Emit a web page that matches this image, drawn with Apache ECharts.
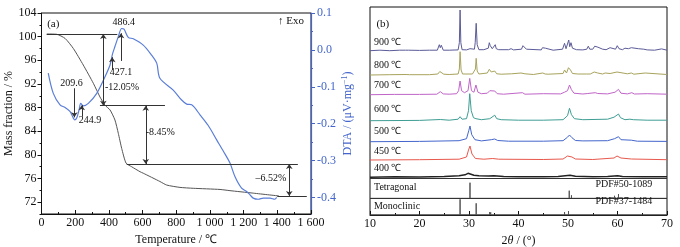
<!DOCTYPE html>
<html>
<head>
<meta charset="utf-8">
<script src="https://cdn.jsdelivr.net/npm/echarts@6/dist/echarts.min.js"></script>
<style>
	html, body { margin: 0; padding: 0; background: #fff; }
	#chart { width: 680px; height: 247px; }
</style>
</head>
<body>
<div id="chart"></div>
<script>
	// (a) TG / DTA, temperature in ℃
	var tgData = [
		[31, 100.45], [90, 100.4], [140, 99.7], [189, 98.0], [248, 95.2], [308, 92.1],
		[347, 89.8], [377, 88.4], [407, 87.6], [436, 85.9], [456, 83.65], [476, 81.1],
		[502, 78.6], [535, 78.0], [585, 77.15], [604, 76.9], [703, 75.5], [743, 74.9],
		[822, 74.5], [901, 74.35], [1060, 74.15], [1119, 73.95], [1250, 73.55], [1410, 73.05]
	];
	var dtaData = [
		[40, -0.063], [70, -0.118], [110, -0.149], [140, -0.156], [169, -0.167], [189, -0.185],
		[197, -0.19], [209, -0.185], [223, -0.163], [233, -0.145], [248, -0.152], [278, -0.145],
		[328, -0.118], [377, -0.073], [407, -0.041], [415, -0.025], [423, -0.009], [436, 0.009],
		[456, 0.036], [476, 0.058], [490, 0.056], [515, 0.034], [545, 0.030], [604, 0.013],
		[650, -0.012], [684, -0.036], [703, -0.077], [782, -0.109], [832, -0.136], [862, -0.147],
		[892, -0.149], [941, -0.176], [990, -0.205], [1040, -0.244], [1080, -0.275], [1119, -0.307],
		[1149, -0.344], [1188, -0.375], [1218, -0.384], [1238, -0.393], [1257, -0.402],
		[1287, -0.405], [1317, -0.402], [1357, -0.402], [1385, -0.405], [1396, -0.400]
	];

	// (b) XRD, 2θ vs relative intensity
	var temps = ["900 ℃", "800 ℃", "700 ℃", "600 ℃", "500 ℃", "450 ℃", "400 ℃"];
	var offsets = [164.3, 140, 120.3, 94.3, 73.3, 55, 37.7];
	var colors = ["#5b5b98", "#a8a35c", "#c065c8", "#3f9e94", "#4466cc", "#e8584c", "#222222"];
	var p900 = [
		[10, 0], [12, 0.5], [14, 0], [16, 0.5], [17.2, 0.5], [17.5, 2.5], [17.8, 0.5], [20, 0.3],
		[22, 0.5], [23.6, 0.5], [24.0, 6], [24.2, 3], [24.4, 5.5], [24.8, 0.5], [26, 0.5],
		[27.8, 0.8], [28.05, 8], [28.2, 40.7], [28.35, 8], [28.6, 1], [29.5, 0.8], [30.2, 2],
		[30.6, 0.8], [31.1, 1.5], [31.25, 8], [31.45, 27.4], [31.65, 6], [32, 1], [33, 1],
		[33.9, 2.5], [34.1, 8], [34.3, 5], [34.5, 6], [34.7, 2], [35.1, 3], [35.3, 6], [35.5, 2],
		[36, 1], [38, 1], [38.5, 2], [39, 0.8], [40.6, 1.5], [40.9, 5], [41.2, 3], [41.6, 1.5],
		[42, 0.5], [44.6, 0.8], [44.85, 3], [45.1, 1], [45.45, 2.5], [45.8, 1], [47, 0.5],
		[48.9, 1.5], [49.3, 7.4], [49.6, 2], [49.9, 3], [50.15, 10.7], [50.35, 4], [50.6, 8],
		[50.9, 2.5], [51.3, 2.5], [51.7, 1], [53, 0.8], [53.8, 1.5], [54.1, 4.5], [54.4, 1.5],
		[55, 1.5], [55.4, 4.5], [55.7, 2.5], [56.05, 3.5], [56.4, 1.5], [57, 1.5], [57.3, 3],
		[57.7, 1], [58.5, 3], [58.8, 1], [59.6, 1.5], [59.95, 5], [60.3, 2], [61, 1], [61.5, 2.5],
		[61.8, 1], [62.2, 2], [62.8, 3], [63.2, 1], [64.2, 2], [64.6, 0.8], [65.3, 1.5],
		[65.6, 3], [66, 0.8], [67.5, 0.5], [68.9, 1.8], [69.2, 0.5], [70, 0.5]
	];
	var p800 = [
		[10, 0], [14, 0.3], [17.3, 0.5], [17.6, 1.5], [18, 0.3], [22, 0.3], [23.7, 1], [24.1, 3.5],
		[24.5, 3], [24.9, 0.8], [26, 0.5], [27.8, 1], [28.05, 6], [28.2, 23.3], [28.4, 5],
		[28.7, 1], [30, 1], [30.3, 2], [30.7, 1], [31.1, 1.5], [31.3, 6], [31.45, 16.7],
		[31.65, 4], [32, 1], [33.7, 2], [34.1, 5.7], [34.5, 3], [35.2, 4], [35.6, 1.2],
		[36.5, 0.8], [38.6, 1.2], [40.5, 2], [40.9, 3.3], [41.3, 1.2], [43, 0.5], [44.9, 2],
		[45.4, 1], [46, 0.8], [49, 1.5], [49.3, 5], [49.7, 2], [50.1, 7.3], [50.5, 5],
		[50.9, 1.5], [52, 1], [53.8, 1], [54.1, 3], [54.5, 1], [55.3, 3], [55.6, 4], [56, 2],
		[57, 1], [57.5, 2], [58.5, 1.5], [59.9, 3], [60.3, 1.5], [62, 1.2], [62.8, 2],
		[63.3, 0.8], [65.6, 2], [66, 0.5], [70, 0.5]
	];
	var p700 = [
		[10, 0], [15, 0.3], [20, 0.3], [23.5, 0.5], [24.2, 3], [24.8, 0.8], [26, 0.5], [27.5, 1],
		[27.9, 4], [28.2, 13.7], [28.5, 4], [29.1, 2], [29.8, 4], [30.15, 16.3], [30.5, 4],
		[31.0, 2.5], [31.4, 9.7], [31.8, 2.5], [32.5, 1], [33.7, 1.5], [34.2, 4], [34.6, 2.5],
		[35.2, 3.7], [35.7, 1], [37, 0.5], [40.8, 2], [41.3, 0.5], [45, 1], [48.5, 0.8],
		[49.3, 2.5], [49.9, 4], [50.3, 9.7], [50.7, 5], [51.2, 1.5], [53, 0.7], [54, 1.2],
		[55.5, 2], [56, 1.2], [58, 0.8], [59.5, 2.5], [60.2, 5.3], [60.7, 1.5], [62, 0.8],
		[62.9, 2], [63.4, 0.7], [66, 1], [70, 0.5]
	];
	var p600 = [
		[10, 0], [20, 0.3], [24.2, 1.2], [26, 0.5], [27.8, 1.5], [28.2, 4], [28.6, 1.5],
		[29.5, 2], [29.9, 10], [30.15, 27], [30.45, 10], [30.9, 3], [31.4, 2], [32.5, 1],
		[34.2, 2], [34.6, 3], [35.2, 5.5], [35.6, 2], [36.5, 1], [40, 0.5], [45, 0.5], [49, 1],
		[49.9, 5], [50.3, 12.4], [50.7, 6], [51.3, 2], [53, 1], [58, 1.5], [59.3, 3.5],
		[59.6, 4], [60.2, 6.7], [60.6, 3], [61.5, 1], [62.5, 1.5], [62.8, 2.4], [63.2, 1],
		[66, 0.5], [70, 0.5]
	];
	var p500 = [
		[10, 0], [20, 0.3], [28, 1], [29.5, 3], [29.95, 11], [30.2, 15.7], [30.55, 7], [31.2, 2],
		[32.5, 0.8], [34.5, 2], [35.2, 2.7], [35.8, 1.2], [38, 0.5], [45, 0.5], [49, 1],
		[49.9, 4.5], [50.3, 6.7], [50.8, 4], [51.5, 1.2], [53, 0.8], [58, 1], [59.4, 3],
		[59.8, 3], [60.2, 5], [60.7, 2], [62.8, 1.5], [64, 0.5], [70, 0.3]
	];
	var p450 = [
		[10, 0], [20, 0.3], [28, 0.8], [29.5, 3], [29.9, 10], [30.2, 14], [30.6, 6], [31.3, 1.5],
		[33, 0.8], [34.8, 1.5], [35.2, 2], [36, 0.8], [45, 0.5], [49, 1], [49.9, 4], [50.3, 6],
		[50.8, 3], [51.5, 1], [55, 0.5], [59.3, 2], [59.9, 4], [60.2, 5], [60.7, 2],
		[62.8, 1], [70, 0.3]
	];
	var p400 = [
		[10, 0], [15, 0.5], [20, 0.3], [25, 0.8], [28, 1.5], [29.2, 2.5], [29.8, 4], [30.2, 3.5],
		[31, 2], [32, 1.5], [34, 1.2], [35, 1.5], [37, 0.8], [40, 0.5], [45, 0.5], [48, 0.8],
		[50.4, 2], [51.5, 1], [55, 0.5], [58, 0.8], [60, 1.5], [61, 0.8], [65, 0.5], [70, 0.5]
	];
	var patterns = [p900, p800, p700, p600, p500, p450, p400];

	// standard cards: [2θ, stick height]
	var tetragonal = [[30.2, 15.6], [35.2, 1.5], [50.25, 7.6], [50.7, 3], [59.4, 2.5], [60.2, 4.3], [62.8, 1]];
	var monoclinic = [
		[24.1, 2], [24.4, 1.5], [28.2, 15.7], [31.45, 11.7], [34.2, 3], [34.4, 2.5], [35.3, 1.5],
		[40.7, 1], [49.3, 3], [50.1, 4], [55.4, 2], [60, 1.5]
	];
	var tetraBase = 16.7;
	var monoBase = 0;
	var boxLines = [16.7, 36.7];

	var font = "Liberation Serif";
	var blue = "#4466cc";

	function sticks(list, base) {
		var out = [[10, base]];
		for (var i = 0; i < list.length; i++) {
			out.push([list[i][0], base]);
			out.push([list[i][0], base + list[i][1]]);
			out.push([list[i][0], base]);
		}
		out.push([70, base]);
		return out;
	}

	function tlabel(x, y, text, pos, size, color) {
		return {
			coord: [x, y],
			symbol: "circle",
			symbolSize: 1,
			itemStyle: { color: "transparent" },
			label: {
				show: true,
				position: pos || "inside",
				distance: 0,
				formatter: text,
				fontFamily: font,
				fontSize: size || 10,
				color: color || "#111"
			}
		};
	}

	function hline(x1, x2, y) {
		return [{ coord: [x1, y], symbol: "none" }, { coord: [x2, y], symbol: "none" }];
	}
	function darrow(x, y1, y2) {
		return [{ coord: [x, y1], symbol: "arrow" }, { coord: [x, y2], symbol: "arrow" }];
	}

	var series = [];
	series.push({
		name: "TG",
		type: "line",
		xAxisIndex: 0,
		yAxisIndex: 0,
		data: tgData,
		showSymbol: false,
		smooth: 0.2,
		lineStyle: { color: "#555", width: 1 },
		markLine: {
			silent: true,
			animation: false,
			symbolSize: 5,
			label: { show: false },
			lineStyle: { color: "#333", width: 1, type: "solid" },
			data: [
				hline(31, 450, 100.45),
				darrow(367, 100.45, 88.32),
				hline(347, 733, 88.32),
				darrow(619, 88.32, 78.45),
				hline(506, 1522, 78.45),
				darrow(1471, 78.45, 73.05),
				hline(1400, 1575, 73.05)
			]
		},
		markPoint: {
			silent: true,
			animation: false,
			data: [
				tlabel(478, 91.43, "-12.05%"),
				tlabel(705, 83.75, "-8.45%"),
				tlabel(1362, 76.04, "–6.52%"),
				tlabel(70, 102.14, "(a)", null, 11),
				tlabel(1481, 102.7, "↑ Exo", null, 11)
			]
		}
	});
	series.push({
		name: "DTA",
		type: "line",
		xAxisIndex: 0,
		yAxisIndex: 1,
		data: dtaData,
		showSymbol: false,
		smooth: 0.3,
		lineStyle: { color: "#5a7ed8", width: 1.2 },
		markLine: {
			silent: true,
			animation: false,
			symbol: ["none", "arrow"],
			symbolSize: 5,
			label: { show: false },
			lineStyle: { color: "#333", width: 1, type: "solid" },
			data: [
				[{ coord: [195, -0.104] }, { coord: [195, -0.183] }],
				[{ coord: [239, -0.181] }, { coord: [239, -0.150] }],
				[{ coord: [420, -0.054] }, { coord: [420, -0.020] }],
				[{ coord: [472, -0.030] }, { coord: [472, 0.045] }]
			]
		},
		markPoint: {
			silent: true,
			animation: false,
			data: [
				tlabel(178, -0.092, "209.6"),
				tlabel(288, -0.190, "244.9"),
				tlabel(472, -0.061, "427.1"),
				tlabel(489, 0.074, "486.4")
			]
		}
	});

	for (var i = 0; i < patterns.length; i++) {
		var d = [];
		for (var j = 0; j < patterns[i].length; j++) {
			d.push([patterns[i][j][0], patterns[i][j][1] + offsets[i]]);
		}
		series.push({
			name: temps[i],
			type: "line",
			xAxisIndex: 1,
			yAxisIndex: 4,
			data: d,
			showSymbol: false,
			lineStyle: { color: colors[i], width: i == 6 ? 1.5 : 1 }
		});
	}

	var bLabels = [tlabel(11.2, 190.7, "(b)", "right", 11)];
	var tempY = [172.3, 150, 130, 105.7, 83.3, 63.3, 46.7];
	for (var k = 0; k < temps.length; k++) {
		bLabels.push(tlabel(10.7, tempY[k], temps[k], "right"));
	}
	bLabels.push(tlabel(10.7, 27.7, "Tetragonal", "right"));
	bLabels.push(tlabel(10.7, 9, "Monoclinic", "right"));
	bLabels.push(tlabel(67.1, 31, "PDF#50-1089", "left"));
	bLabels.push(tlabel(67.1, 13.3, "PDF#37-1484", "left"));

	series.push({
		name: "Tetragonal",
		type: "line",
		xAxisIndex: 1,
		yAxisIndex: 4,
		data: sticks(tetragonal, tetraBase),
		showSymbol: false,
		lineStyle: { color: "#555", width: 1 },
		markLine: {
			silent: true,
			animation: false,
			symbol: "none",
			label: { show: false },
			lineStyle: { color: "#333", width: 1, type: "solid" },
			data: boxLines.map(function(v) { return { yAxis: v }; })
		},
		markPoint: { silent: true, animation: false, data: bLabels }
	});
	series.push({
		name: "Monoclinic",
		type: "line",
		xAxisIndex: 1,
		yAxisIndex: 4,
		data: sticks(monoclinic, monoBase),
		showSymbol: false,
		lineStyle: { color: "#555", width: 1 }
	});

	var axisText = { fontFamily: font, fontSize: 12, color: "#111" };

	var option = {
		animation: false,
		backgroundColor: "#fff",
		textStyle: { fontFamily: font },
		grid: [
			{ left: 41.5, right: 369, top: 13, bottom: 33, show: true, borderColor: "#111", borderWidth: 1, outerBoundsMode: "none", containLabel: false },
			{ left: 370, right: 13, top: 7, bottom: 32, show: true, borderColor: "#111", borderWidth: 1, outerBoundsMode: "none", containLabel: false }
		],
		xAxis: [{
			type: "value",
			gridIndex: 0,
			min: 0,
			max: 1600,
			interval: 200,
			name: "Temperature / ℃",
			nameLocation: "middle",
			nameGap: 18,
			nameTextStyle: axisText,
			axisLine: { onZero: false, lineStyle: { color: "#111" } },
			axisTick: { inside: true, length: 4, lineStyle: { color: "#111" } },
			minorTick: { show: true, splitNumber: 2, length: 2, lineStyle: { color: "#111" } },
			axisLabel: {
				margin: 3,
				fontFamily: font,
				fontSize: 12,
				color: "#111",
				formatter: function(v) {
					if (v >= 1000) {
						return Math.floor(v / 1000) + " " + String(v % 1000).padStart(3, "0");
					}
					return String(v);
				}
			},
			splitLine: { show: false }
		}, {
			type: "value",
			gridIndex: 1,
			min: 10,
			max: 70,
			interval: 10,
			name: "2{i|θ} / (°)",
			nameLocation: "middle",
			nameGap: 18,
			nameTextStyle: {
				fontFamily: font,
				fontSize: 12,
				color: "#111",
				rich: { i: { fontFamily: font, fontSize: 12, fontStyle: "italic", color: "#111" } }
			},
			axisLine: { onZero: false, lineStyle: { color: "#111" } },
			axisTick: { inside: true, length: 4, lineStyle: { color: "#111" } },
			minorTick: { show: true, splitNumber: 2, length: 2, lineStyle: { color: "#111" } },
			axisLabel: { margin: 3, fontFamily: font, fontSize: 12, color: "#111" },
			splitLine: { show: false }
		}],
		yAxis: [{
			type: "value",
			gridIndex: 0,
			position: "left",
			min: 70,
			max: 104,
			name: "Mass fraction / %",
			nameLocation: "middle",
			nameGap: 25,
			nameTextStyle: axisText,
			axisLine: { show: true, onZero: false, lineStyle: { color: "#111" } },
			axisTick: { show: true, length: 4, customValues: [72, 76, 80, 84, 88, 92, 96, 100, 104], lineStyle: { color: "#111" } },
			axisLabel: { margin: 5, fontFamily: font, fontSize: 12, color: "#111", customValues: [72, 76, 80, 84, 88, 92, 96, 100, 104] },
			splitLine: { show: false }
		}, {
			type: "value",
			gridIndex: 0,
			position: "right",
			min: -0.445,
			max: 0.1,
			name: "DTA / (μV·mg{s|−1})",
			nameLocation: "middle",
			nameGap: 30,
			nameTextStyle: {
				fontFamily: font,
				fontSize: 12,
				color: blue,
				rich: { s: { fontFamily: font, fontSize: 8, verticalAlign: "top", color: blue, padding: [0, 0, 6, 0] } }
			},
			axisLine: { show: true, onZero: false, lineStyle: { color: blue, width: 1.2 } },
			axisTick: { show: true, length: 4, customValues: [0.1, 0, -0.1, -0.2, -0.3, -0.4], lineStyle: { color: blue } },
			axisLabel: {
				margin: 6,
				fontFamily: font,
				fontSize: 12,
				color: blue,
				customValues: [0.1, 0, -0.1, -0.2, -0.3, -0.4],
				formatter: function(v) { return v.toFixed(1); }
			},
			splitLine: { show: false }
		}, {
			type: "value",
			gridIndex: 0,
			position: "left",
			min: 70,
			max: 104,
			axisLine: { show: false, onZero: false },
			axisTick: { show: true, length: 2, customValues: [70, 74, 78, 82, 86, 90, 94, 98, 102], lineStyle: { color: "#111" } },
			axisLabel: { show: false },
			splitLine: { show: false }
		}, {
			type: "value",
			gridIndex: 0,
			position: "right",
			min: -0.445,
			max: 0.1,
			axisLine: { show: false, onZero: false },
			axisTick: { show: true, length: 2, customValues: [0.05, -0.05, -0.15, -0.25, -0.35], lineStyle: { color: blue } },
			axisLabel: { show: false },
			splitLine: { show: false }
		}, {
			type: "value",
			gridIndex: 1,
			min: 0,
			max: 208,
			show: false
		}],
		series: series
	};

	var myChart = echarts.init(document.getElementById("chart"));
	myChart.setOption(option);
</script>
</body>
</html>
